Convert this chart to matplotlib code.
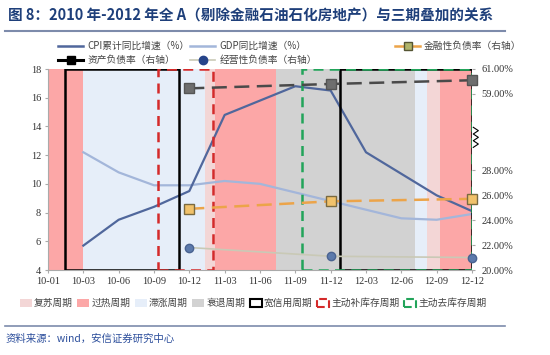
import numpy as np
import matplotlib
matplotlib.use('Agg')
import matplotlib.pyplot as plt
from matplotlib.lines import Line2D
from matplotlib.patches import Patch
import matplotlib.ticker as mticker
import matplotlib.transforms as mtrans

plt.rcParams['font.family'] = ['Noto Sans CJK SC', 'DejaVu Sans']

# quarterly points (month index counted from 2010-01)
quarters = ['10-03', '10-06', '10-09', '10-12', '11-03', '11-06', '11-09', '11-12',
            '12-03', '12-06', '12-09', '12-12']
cpi = [5.7, 7.5, 8.4, 9.5, 14.8, 15.8, 16.8, 16.5, 12.2, 10.7, 9.2, 8.1]
gdp = [12.2, 10.8, 9.9, 9.9, 10.2, 10.0, 9.4, 8.8, 8.2, 7.6, 7.5, 7.9]

# annual points, right axis (%)
years = ['10-12', '11-12', '12-12']
asset_ratio = [59.45, 59.8, 60.1]
fin_ratio = [24.9, 25.5, 25.7]
op_ratio = [21.8, 21.1, 21.0]

tick_labels = ['10-01'] + quarters

# cycle phases (start month, end month, phase)
phases = [(0, 3, '过热'), (3, 13.3, '滞涨'), (13.3, 14.2, '复苏'), (14.2, 19.4, '过热'),
          (19.4, 31.2, '衰退'), (31.2, 32.2, '滞涨'), (32.2, 33.3, '复苏'), (33.3, 36, '过热')]
credit_boxes = [(1.45, 11.1), (24.8, 36)]
restock_boxes = [(9.35, 14.0)]
destock_boxes = [(21.6, 36)]

phase_colors = {'复苏': '#f3d6d6', '过热': '#fca7a7', '滞涨': '#e6eef9', '衰退': '#d2d2d2'}


def month_index(lbl):
    yy, mm = lbl.split('-')
    return (int(yy) - 10) * 12 + int(mm)


xq = [month_index(q) for q in quarters]
xy = [month_index(q) for q in years]
xticks = [0] + xq

fig = plt.figure(figsize=(5.5, 3.55), dpi=100)
ax = fig.add_axes([48 / 550, 1 - 270 / 355, 424 / 550, 201 / 355])

for s, e, p in phases:
    ax.axvspan(s, e, color=phase_colors[p], lw=0, zorder=0)

ax.plot(xq, gdp, color='#a3b6da', lw=1.6, zorder=3)
ax.plot(xq, cpi, color='#50679c', lw=1.6, zorder=3)

for s, e in credit_boxes:
    ax.axvspan(s, e, fill=False, edgecolor='black', lw=1.8, zorder=5)
for s, e in restock_boxes:
    ax.axvspan(s, e, fill=False, edgecolor='#d42a2a', lw=1.8, ls=(0, (4, 2.5)), zorder=5)
for s, e in destock_boxes:
    ax.axvspan(s, e, fill=False, edgecolor='#22a45a', lw=1.8, ls=(0, (4, 2.5)), zorder=6)

ax.set_xlim(0, 36)
ax.set_ylim(4, 18)
ax.set_yticks(np.arange(4, 19, 2))
ax.set_xticks(xticks)
ax.set_xticklabels(tick_labels)
for t in ax.get_xticklabels() + ax.get_yticklabels():
    t.set_family('Liberation Serif')
    t.set_fontsize(7.5)
    t.set_color('#333333')
last = ax.get_xticklabels()[-1]
last.set_transform(last.get_transform() + mtrans.ScaledTranslation(-14 / 100, 0, fig.dpi_scale_trans))
ax.tick_params(axis='both', length=2, color='#aaaaaa', pad=3)
for sp in ['top', 'right']:
    ax.spines[sp].set_visible(False)
for sp in ['left', 'bottom']:
    ax.spines[sp].set_color('#aaaaaa')

# right axis with a broken scale
def fwd(v):
    v = np.asarray(v, dtype=float)
    return np.where(v < 45, v, v - 59 + 34.1)


def inv(y):
    y = np.asarray(y, dtype=float)
    return np.where(y < 31, y, y + 59 - 34.1)


ax2 = ax.twinx()
ax2.set_yscale('function', functions=(fwd, inv))
ax2.set_ylim(20, 61)
ax2.yaxis.set_major_locator(mticker.FixedLocator([20, 22, 24, 26, 28, 59, 61]))
ax2.yaxis.set_minor_locator(mticker.NullLocator())
ax2.yaxis.set_major_formatter(mticker.FuncFormatter(lambda v, p: '%.2f%%' % v))
for t in ax2.get_yticklabels():
    t.set_family('Liberation Serif')
    t.set_fontsize(7.5)
    t.set_color('#333333')
ax2.tick_params(axis='y', length=2, color='#aaaaaa', pad=5)
for sp in ax2.spines.values():
    sp.set_visible(False)

ax2.plot(xy, op_ratio, color='#c9c9b6', lw=1.2, zorder=3)
ax2.plot(xy, op_ratio, ls='none', marker='o', ms=6, mfc='#5c7aac', mec='#4a6391',
         clip_on=False, zorder=7)
ax2.plot(xy, fin_ratio, color='#eca449', lw=1.8, ls=(0, (6, 3)), zorder=3)
ax2.plot(xy, fin_ratio, ls='none', marker='s', ms=7, mfc='#f1c26b', mec='#7a6a40',
         clip_on=False, zorder=7)
ax2.plot(xy, asset_ratio, color='#4a4a4a', lw=1.8, ls=(0, (6, 3)), zorder=3)
ax2.plot(xy, asset_ratio, ls='none', marker='s', ms=7, mfc='#6e6e6e', mec='#555555',
         clip_on=False, zorder=7)

# axis break mark
zz_y = np.linspace(0.61, 0.71, 7)
zz_x = 1.003 + np.array([0, 0.012, 0, 0.012, 0, 0.012, 0])
ax2.plot(zz_x, zz_y, color='black', lw=0.8, transform=ax2.transAxes, clip_on=False)

# title and framing lines
fig.text(8 / 550, 1 - 16 / 355, '图 8：2010 年-2012 年全 A（剔除金融石油石化房地产）与三期叠加的关系',
         fontsize=10.5, fontweight='bold', color='#1e3f7a', va='center', ha='left')
fig.add_artist(Line2D([5 / 550, 505 / 550], [1 - 31 / 355] * 2, color='#7d8bab', lw=1.5))
fig.add_artist(Line2D([5 / 550, 505 / 550], [1 - 326 / 355] * 2, color='#7d8bab', lw=1.2))
fig.text(6 / 550, 1 - 339 / 355, '资料来源：wind，安信证券研究中心', fontsize=7.5,
         style='italic', color='#2d4f9c', va='center', ha='left')

# top legends
h_cpi = Line2D([], [], color='#50679c', lw=1.8)
h_gdp = Line2D([], [], color='#a3b6da', lw=1.8)
h_fin = Line2D([], [], color='#eca449', lw=1.8, marker='s', ms=6, mfc='#b0b46a', mec='#555533')
h_asset = Line2D([], [], color='black', lw=2.2, marker='s', ms=6, mfc='black', mec='black')
h_op = Line2D([], [], color='#c9c9b6', lw=1.2, marker='o', ms=6, mfc='#26448a', mec='#26448a')

leg_kw = dict(frameon=False, fontsize=7, handlelength=2.6, handletextpad=0.4,
              labelspacing=0.45, borderpad=0, borderaxespad=0, loc='upper left',
              labelcolor='#444444')
fig.legend([h_cpi, h_asset], ['CPI累计同比增速（%）', '资产负债率（右轴）'],
           bbox_to_anchor=(58 / 550, 1 - 41 / 355), **leg_kw)
fig.legend([h_gdp, h_op], ['GDP同比增速（%）', '经营性负债率（右轴）'],
           bbox_to_anchor=(190 / 550, 1 - 41 / 355), **leg_kw)
fig.legend([h_fin], ['金融性负债率（右轴）'],
           bbox_to_anchor=(395 / 550, 1 - 41 / 355), **leg_kw)

# bottom legend
bh = [Patch(facecolor=phase_colors['复苏'], edgecolor='none'),
      Patch(facecolor=phase_colors['过热'], edgecolor='none'),
      Patch(facecolor=phase_colors['滞涨'], edgecolor='none'),
      Patch(facecolor=phase_colors['衰退'], edgecolor='none'),
      Patch(facecolor='white', edgecolor='black', lw=1.5),
      Patch(fill=False, edgecolor='#d42a2a', lw=1.5, ls='--'),
      Patch(fill=False, edgecolor='#22a45a', lw=1.5, ls='--')]
bl = ['复苏周期', '过热周期', '滞涨周期', '衰退周期', '宽信用周期', '主动补库存周期', '主动去库存周期']
fig.legend(bh, bl, ncol=7, frameon=False, fontsize=7, handlelength=1.2, handleheight=0.9,
           handletextpad=0.25, columnspacing=0.45, loc='center left', borderpad=0,
           borderaxespad=0, bbox_to_anchor=(20 / 550, 1 - 303 / 355), labelcolor='#444444')

fig.savefig('out.png', dpi=100)
